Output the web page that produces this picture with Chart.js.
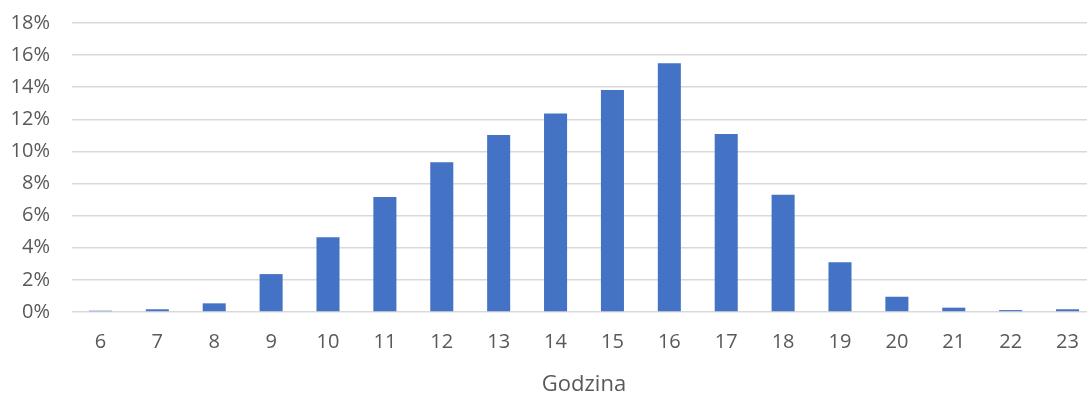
<!DOCTYPE html>
<html lang="pl">
<head>
<meta charset="utf-8">
<title>Rozkład godzinowy</title>
<script src="https://cdn.jsdelivr.net/npm/chart.js@4.4.1/dist/chart.umd.min.js"></script>
<style>
  html, body { margin: 0; padding: 0; background: #ffffff; overflow: hidden; }
  #wrap { position: relative; width: 1100px; height: 407px; margin-top: -11px; }
</style>
</head>
<body>
<div id="wrap"><canvas id="chart"></canvas></div>
<script>
// Hour of day (categories)
const hours = ['6', '7', '8', '9', '10', '11', '12', '13', '14', '15', '16', '17', '18', '19', '20', '21', '22', '23'];
// Share of records per hour, in percent
const shares = [0.08, 0.17, 0.54, 2.36, 4.65, 7.16, 9.33, 11.03, 12.37, 13.82, 15.50, 11.08, 7.30, 3.10, 0.95, 0.27, 0.12, 0.17];
// Value axis ticks, in percent
const yTicks = [0, 2, 4, 6, 8, 10, 12, 14, 16, 18];
const axisTitle = 'Godzina';

const textColor = '#595959';
const gridColor = '#D9D9D9';
const barColor = '#4472C4';
const fontFamily = '"Open Sans", "Liberation Sans", sans-serif';

new Chart(document.getElementById('chart'), {
  type: 'bar',
  data: {
    labels: hours,
    datasets: [{
      data: shares,
      backgroundColor: barColor,
      borderWidth: 0,
      categoryPercentage: 1,
      barPercentage: 0.405
    }]
  },
  options: {
    responsive: true,
    maintainAspectRatio: false,
    animation: false,
    layout: { padding: { top: 11, right: 4, bottom: 0, left: 0 } },
    plugins: {
      legend: { display: false },
      tooltip: { enabled: false },
      title: { display: false }
    },
    scales: {
      x: {
        offset: true,
        grid: { display: false, drawTicks: false },
        border: { display: false },
        ticks: {
          color: textColor,
          font: { family: fontFamily, size: 20 },
          padding: 18,
          maxRotation: 0,
          autoSkip: false
        },
        title: {
          display: true,
          text: axisTitle,
          color: textColor,
          font: { family: fontFamily, size: 22, lineHeight: 1 },
          padding: { top: 0, bottom: 0 }
        },
        afterFit(scale) { scale.height = 84; }
      },
      y: {
        min: 0,
        max: 18,
        afterBuildTicks(scale) { scale.ticks = yTicks.map(v => ({ value: v })); },
        grid: { color: gridColor, lineWidth: 1.6, drawTicks: false },
        border: { display: false },
        ticks: {
          color: textColor,
          font: { family: fontFamily, size: 20 },
          padding: 22,
          callback: v => v + '%'
        },
        afterFit(scale) { scale.width = 72; }
      }
    }
  }
});
</script>
</body>
</html>
